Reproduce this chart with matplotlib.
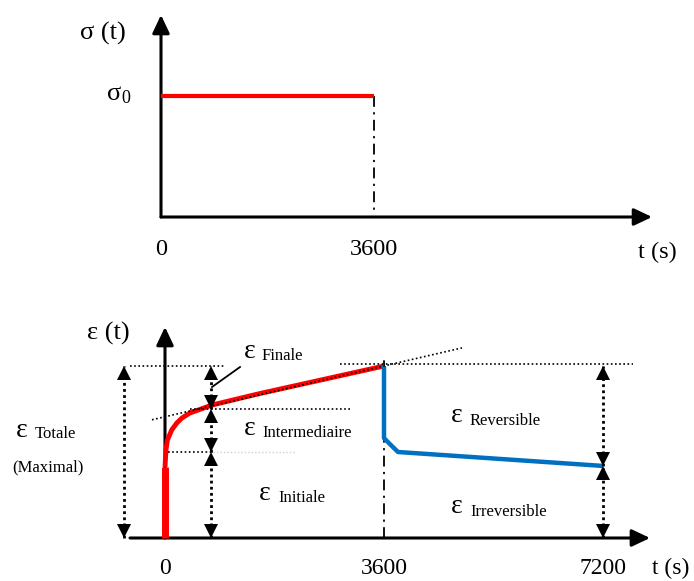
import matplotlib
matplotlib.use('Agg')
import matplotlib.pyplot as plt
from matplotlib.transforms import offset_copy

plt.rcParams['font.family'] = ['Liberation Serif', 'DejaVu Serif']

# ---------------- data ----------------
t_load = [0, 3600]
sigma_load = [1.0, 1.0]
top_tick_values = [0, 3600]
top_tick_labels = ['0', '3600']
bot_tick_values = [0, 3600, 7200]
bot_tick_labels = ['0', '3600', '7200']

t_jump = [0, 0]
eps_jump = [0.0, 0.413]
t_creep = [0, 16, 40, 110, 195, 280, 410, 460, 770, 1560, 3600]
eps_creep = [0.413, 0.512, 0.57, 0.628, 0.669, 0.698, 0.727, 0.733, 0.773, 0.84, 1.0]
t_recov = [3600, 3600, 3680, 3830, 7200]
eps_recov = [1.0, 0.581, 0.552, 0.5, 0.419]

eps_initial = 0.5
eps_intermediate = 0.75
eps_total = 1.0
eps_irrev = 0.419
tangent_a, tangent_b = 0.705, 8.2e-5
t_unload = 3600
t_end = 7200

# ---------------- layout ----------------
W, H = 694, 581
fig = plt.figure(figsize=(W / 100, H / 100), dpi=100)

# top axes: pixel rows 0..290
TOP_H = 290
top_x0, top_px_per_s = 161, 213 / 3600
top_y0, top_px_per_sig = 217, 121.5
ax1 = fig.add_axes([0, 1 - TOP_H / H, 1, TOP_H / H])
ax1.set_xlim(-top_x0 / top_px_per_s, (W - top_x0) / top_px_per_s)
ax1.set_ylim((top_y0 - TOP_H) / top_px_per_sig, top_y0 / top_px_per_sig)
ax1.axis('off')

# bottom axes: pixel rows 291..581
BOT_TOP = 291
bot_x0, bot_px_per_s = 165, 438 / 7200
bot_y0, bot_px_per_eps = 538, 172
ax2 = fig.add_axes([0, 0, 1, (H - BOT_TOP) / H])
ax2.set_xlim(-bot_x0 / bot_px_per_s, (W - bot_x0) / bot_px_per_s)
ax2.set_ylim((bot_y0 - H) / bot_px_per_eps, (bot_y0 - BOT_TOP) / bot_px_per_eps)
ax2.axis('off')

RED = '#ff0000'
BLUE = '#0070c0'
EPS_SIZE = 20


def axis_arrow(ax, start, end):
    ax.annotate('', xy=end, xytext=start,
                arrowprops=dict(arrowstyle='-|>,head_length=0.55,head_width=0.26',
                                lw=2.2, color='k', shrinkA=0, shrinkB=0,
                                mutation_scale=20), zorder=3)


def double_arrow(ax, t, e0, e1):
    ax.plot([t, t], [e0, e1], ls=(0, (1, 1.2)), lw=2.0, color='k', zorder=4)
    up = offset_copy(ax.transData, fig=fig, y=-5, units='points')
    dn = offset_copy(ax.transData, fig=fig, y=5, units='points')
    ax.plot([t], [e1], marker='^', ms=10, color='k', mew=0, transform=up, zorder=5)
    ax.plot([t], [e0], marker='v', ms=10, color='k', mew=0, transform=dn, zorder=5)


def ftext(x, y, s, size, ha='left'):
    fig.text(x / W, 1 - y / H, s, fontsize=size, ha=ha, va='baseline')


def eps_label(x_eps, y_eps, x_word, y_word, word):
    ftext(x_eps, y_eps, 'ε', EPS_SIZE)
    ftext(x_word, y_word, word, 12)


# ---------------- top panel ----------------
axis_arrow(ax1, (0, 0), (0, 1.663))
axis_arrow(ax1, (0, 0), (8300, 0))
ax1.plot(t_load, sigma_load, color=RED, lw=3, solid_capstyle='butt', zorder=4)
ax1.plot([t_load[-1], t_load[-1]], [sigma_load[-1], 0.03], color='k', lw=1.3,
         ls=(0, (6, 3, 1.2, 3)), zorder=2)

ftext(80, 40, 'σ (t)', 19)
ftext(107, 100, 'σ', 19)
ftext(121, 103, '0', 13)
for v, lab in zip(top_tick_values, top_tick_labels):
    ftext(top_x0 + v * top_px_per_s, 255, lab, 17.5, ha='center')
ftext(638, 258, 't (s)', 17.5)

# ---------------- bottom panel ----------------
axis_arrow(ax2, (0, 0), (0, 1.227))
axis_arrow(ax2, (-575, 0), (7973, 0))

# dash-dot at unloading time
ax2.plot([t_unload, t_unload], [0, 1.047], color='k', lw=1.3,
         ls=(0, (6, 3, 1.2, 3)), zorder=2)

# reference dotted lines
dot = dict(color='k', lw=1.2, ls=(0, (1, 1.5)), zorder=6)
ax2.plot([-575, 986], [eps_total, eps_total], **dot)
ax2.plot([2877, 7694], [eps_total + 0.01, eps_total + 0.01], **dot)
ax2.plot([411, 3074], [eps_intermediate, eps_intermediate], **dot)
ax2.plot([49, 789], [eps_initial, eps_initial], **dot)
ax2.plot([789, 2137], [eps_initial, eps_initial], color='#d0d0d0', lw=1.0,
         ls=(0, (1, 1.5)), zorder=1)
tt = [-214, 4882]
ax2.plot(tt, [tangent_a + tangent_b * x for x in tt], **dot)

# curves
ax2.plot(t_jump, eps_jump, color=RED, lw=5, solid_capstyle='butt', zorder=4)
ax2.plot(t_creep, eps_creep, color=RED, lw=3.5, solid_capstyle='butt',
         solid_joinstyle='round', zorder=4)
ax2.plot(t_recov, eps_recov, color=BLUE, lw=3.2, solid_capstyle='butt',
         solid_joinstyle='round', zorder=4)

# leader line for Finale
ax2.plot([773, 1233], [0.878, 0.994], color='k', lw=1.3, zorder=6)

# double arrows
double_arrow(ax2, -674, 0, eps_total)
double_arrow(ax2, 756, eps_intermediate, eps_total)
double_arrow(ax2, 756, eps_initial, eps_intermediate)
double_arrow(ax2, 756, 0, eps_initial)
double_arrow(ax2, t_end, eps_irrev, eps_total)
double_arrow(ax2, t_end, 0, eps_irrev)

# labels
ftext(87, 340, 'ε (t)', 19)
eps_label(244, 358, 262, 360, 'Finale')
eps_label(16, 437, 35, 438, 'Totale')
ftext(12, 471, '(Maximal)', 12)
eps_label(244, 435, 262, 437, 'Intermediaire')
eps_label(259, 500, 278, 502, 'Initiale')
eps_label(451, 422, 470, 425, 'Reversible')
eps_label(451, 513, 470, 516, 'Irreversible')
for v, lab in zip(bot_tick_values, bot_tick_labels):
    ftext(bot_x0 + v * bot_px_per_s, 574, lab, 17, ha='center')
ftext(652, 574, 't (s)', 17)

fig.savefig('out.png', dpi=100, facecolor='white')
